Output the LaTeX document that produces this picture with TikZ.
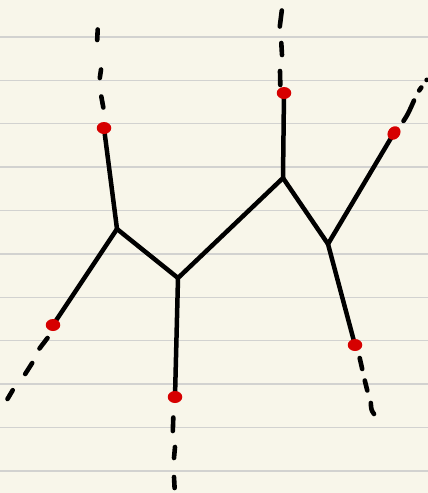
\documentclass[tikz,border=0pt]{standalone}
\usetikzlibrary{shapes.geometric}
\definecolor{paper}{HTML}{F8F6EA}
\definecolor{rule}{HTML}{D2D2D0}
\definecolor{dotred}{HTML}{D60000}
\tikzset{
  bond/.style={line width=4.5pt, line cap=round, line join=round, black},
  dashseg/.style={line width=4.6pt, line cap=round, black},
  ruleline/.style={line width=1.4pt, rule},
  reddot/.style={ellipse, fill=dotred, inner sep=0pt, minimum width=14.5pt, minimum height=12pt}
}
\begin{document}
\begin{tikzpicture}[x=1pt,y=-1pt]
\useasboundingbox (0,0) rectangle (428,493);
\fill[paper] (0,0) rectangle (428,493);
\foreach \k in {0,...,10} {
  \draw[ruleline] (0,{37+43.38*\k}) -- (428,{37+43.38*\k});
}
% junctions
\coordinate (A) at (117,229);
\coordinate (B) at (178,278);
\coordinate (C) at (283,178);
\coordinate (D) at (328,244);
% terminal dots
\coordinate (p1) at (104,128);
\coordinate (p2) at (53,325);
\coordinate (p3) at (175,397);
\coordinate (p4) at (284,93);
\coordinate (p5) at (394,133);
\coordinate (p6) at (355,345);
% bonds
\draw[bond] (p1) -- (A);
\draw[bond] (p2) -- (A);
\draw[bond] (A) -- (B);
\draw[bond] (B) -- (p3);
\draw[bond] (B) -- (C);
\draw[bond] (C) -- (p4);
\draw[bond] (C) -- (D);
\draw[bond] (D) -- (p5);
\draw[bond] (D) -- (p6);
% dashed extensions (hand drawn)
\draw[dashseg] (97.7,29.5) -- (97.2,40);
\draw[dashseg] (101,69.5) -- (99.8,78);
\draw[dashseg] (101.3,96.5) -- (103.3,107.5);
\draw[dashseg] (281.8,10.5) -- (279.8,26.5);
\draw[dashseg] (281.3,43) -- (282,55);
\draw[dashseg] (280,71) -- (280.3,85);
\draw[dashseg] (403.5,121) .. controls (408,114) .. (414,100.5);
\draw[dashseg] (419.2,90.5) -- (421.3,87.5);
\draw[dashseg] (426.6,80) -- (426.8,79.8);
\draw[dashseg] (47.5,338) -- (39.5,348.5);
\draw[dashseg] (32.2,363) -- (25.2,374);
\draw[dashseg] (12.7,390.2) -- (7.5,399);
\draw[dashseg] (173.3,417.5) -- (172.8,431);
\draw[dashseg] (175,447) -- (174,458);
\draw[dashseg] (174,477) -- (174.6,488);
\draw[dashseg] (359.7,358) -- (362.2,369);
\draw[dashseg] (364.8,380.5) .. controls (366.5,385) .. (367.3,390.5);
\draw[dashseg] (370.8,403) .. controls (371.3,410) .. (374,414);
% dots on top
\node[reddot] (n1) at (p1) {};
\node[reddot] (n2) at (p2) {};
\node[reddot] (n3) at (p3) {};
\node[reddot] (n4) at (p4) {};
\node[reddot, rotate=50] (n5) at (p5) {};
\node[reddot] (n6) at (p6) {};
\end{tikzpicture}
\end{document}
